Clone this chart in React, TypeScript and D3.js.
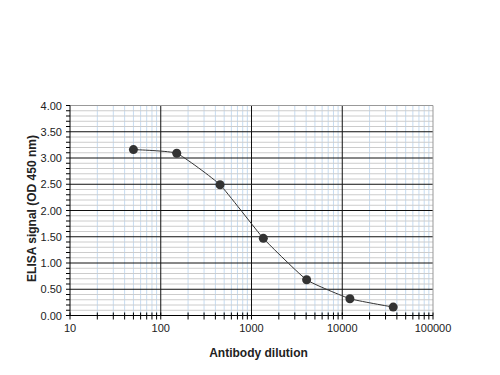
import React, { useEffect, useRef } from 'react';
import * as d3 from 'd3';

const dilutions = [50, 150, 450, 1350, 4050, 12150, 36450];
const signals = [3.16, 3.09, 2.49, 1.47, 0.68, 0.32, 0.16];
const xTickLabels = ['10', '100', '1000', '10000', '100000'];
const yTickLabels = ['0.00', '0.50', '1.00', '1.50', '2.00', '2.50', '3.00', '3.50', '4.00'];

const App: React.FC = () => {
  const svgRef = useRef<SVGSVGElement>(null);

  useEffect(() => {
    if (!svgRef.current) return;
    const width = 500;
    const height = 375;
    const m = { left: 70, right: 67, top: 105.5, bottom: 59.5 };

    const svg = d3.select(svgRef.current).html('');
    const font = '"Liberation Sans", Arial, sans-serif';

    const x = d3.scaleLog().domain([10, 100000]).range([m.left, width - m.right]);
    const y = d3.scaleLinear().domain([0, 4]).range([height - m.bottom, m.top]);

    const g = svg.append('g');

    // minor vertical grid (2..9 per decade)
    const minorX: number[] = [];
    for (let p = 1; p < 5; p++) {
      for (let k = 2; k <= 9; k++) minorX.push(k * Math.pow(10, p));
    }
    g.selectAll('.vminor')
      .data(minorX)
      .enter()
      .append('line')
      .attr('x1', d => x(d)).attr('x2', d => x(d))
      .attr('y1', y(4)).attr('y2', y(0))
      .attr('stroke', '#c6dcf2')
      .attr('stroke-width', 1);

    // minor horizontal grid every 0.1
    const minorY = d3.range(1, 40).filter(i => i % 5 !== 0).map(i => i / 10);
    g.selectAll('.hminor')
      .data(minorY)
      .enter()
      .append('line')
      .attr('x1', x(10)).attr('x2', x(100000))
      .attr('y1', d => y(d)).attr('y2', d => y(d))
      .attr('stroke', '#cccccc')
      .attr('stroke-width', 1);

    // major vertical grid
    g.selectAll('.vmajor')
      .data([100, 1000, 10000])
      .enter()
      .append('line')
      .attr('x1', d => x(d)).attr('x2', d => x(d))
      .attr('y1', y(4)).attr('y2', y(0))
      .attr('stroke', '#111')
      .attr('stroke-width', 1);

    // major horizontal grid
    g.selectAll('.hmajor')
      .data([0.5, 1, 1.5, 2, 2.5, 3, 3.5])
      .enter()
      .append('line')
      .attr('x1', x(10)).attr('x2', x(100000))
      .attr('y1', d => y(d)).attr('y2', d => y(d))
      .attr('stroke', '#111')
      .attr('stroke-width', 1);

    // frame top/right
    g.append('line')
      .attr('x1', x(10)).attr('x2', x(100000))
      .attr('y1', y(4)).attr('y2', y(4))
      .attr('stroke', '#999');
    g.append('line')
      .attr('x1', x(100000)).attr('x2', x(100000))
      .attr('y1', y(4)).attr('y2', y(0))
      .attr('stroke', '#999');

    // axes
    g.append('line')
      .attr('x1', x(10)).attr('x2', x(10))
      .attr('y1', y(4)).attr('y2', y(0))
      .attr('stroke', '#000');
    g.append('line')
      .attr('x1', x(10)).attr('x2', x(100000))
      .attr('y1', y(0)).attr('y2', y(0))
      .attr('stroke', '#000');

    // y ticks every 0.1
    g.selectAll('.ytick')
      .data(d3.range(0, 41).map(i => i / 10))
      .enter()
      .append('line')
      .attr('x1', x(10) - 4).attr('x2', x(10))
      .attr('y1', d => y(d)).attr('y2', d => y(d))
      .attr('stroke', '#000');

    // x ticks
    g.selectAll('.xtick')
      .data([10, ...minorX, 100, 1000, 10000, 100000])
      .enter()
      .append('line')
      .attr('x1', d => x(d)).attr('x2', d => x(d))
      .attr('y1', y(0) - 3).attr('y2', y(0) + 4)
      .attr('stroke', '#000');

    // y labels
    g.selectAll('.ylab')
      .data(yTickLabels)
      .enter()
      .append('text')
      .attr('x', x(10) - 8)
      .attr('y', d => y(+d) + 4)
      .attr('text-anchor', 'end')
      .attr('font-family', font)
      .attr('font-size', 11)
      .attr('fill', '#222')
      .text(d => d);

    // x labels
    g.selectAll('.xlab')
      .data(xTickLabels)
      .enter()
      .append('text')
      .attr('x', d => x(+d))
      .attr('y', y(0) + 16)
      .attr('text-anchor', 'middle')
      .attr('font-family', font)
      .attr('font-size', 11)
      .attr('fill', '#222')
      .text(d => d);

    // titles
    svg.append('text')
      .attr('x', (x(10) + x(100000)) / 2 + 7)
      .attr('y', 357)
      .attr('text-anchor', 'middle')
      .attr('font-family', font)
      .attr('font-size', 12)
      .attr('font-weight', 'bold')
      .attr('fill', '#222')
      .text('Antibody dilution');

    svg.append('text')
      .attr('transform', `translate(36, ${(y(0) + y(4)) / 2 - 2}) rotate(-90)`)
      .attr('text-anchor', 'middle')
      .attr('font-family', font)
      .attr('font-size', 12)
      .attr('font-weight', 'bold')
      .attr('fill', '#222')
      .text('ELISA signal (OD 450 nm)');

    // data line (lightly smoothed)
    const pts = dilutions.map((d, i) => [d, signals[i]] as [number, number]);
    const line = d3.line<[number, number]>()
      .x(d => x(d[0]))
      .y(d => y(d[1]))
      .curve(d3.curveCardinal.tension(0.6));
    svg.append('path')
      .attr('d', line(pts))
      .attr('fill', 'none')
      .attr('stroke', '#333')
      .attr('stroke-width', 1);

    svg.selectAll('.pt')
      .data(pts)
      .enter()
      .append('circle')
      .attr('cx', d => x(d[0]))
      .attr('cy', d => y(d[1]))
      .attr('r', 4.5)
      .attr('fill', '#333');
  }, []);

  return (
    <svg
      ref={svgRef}
      width={500}
      height={375}
      style={{ position: 'absolute', left: 0, top: 0, background: '#fff' }}
    />
  );
};

export default App;
